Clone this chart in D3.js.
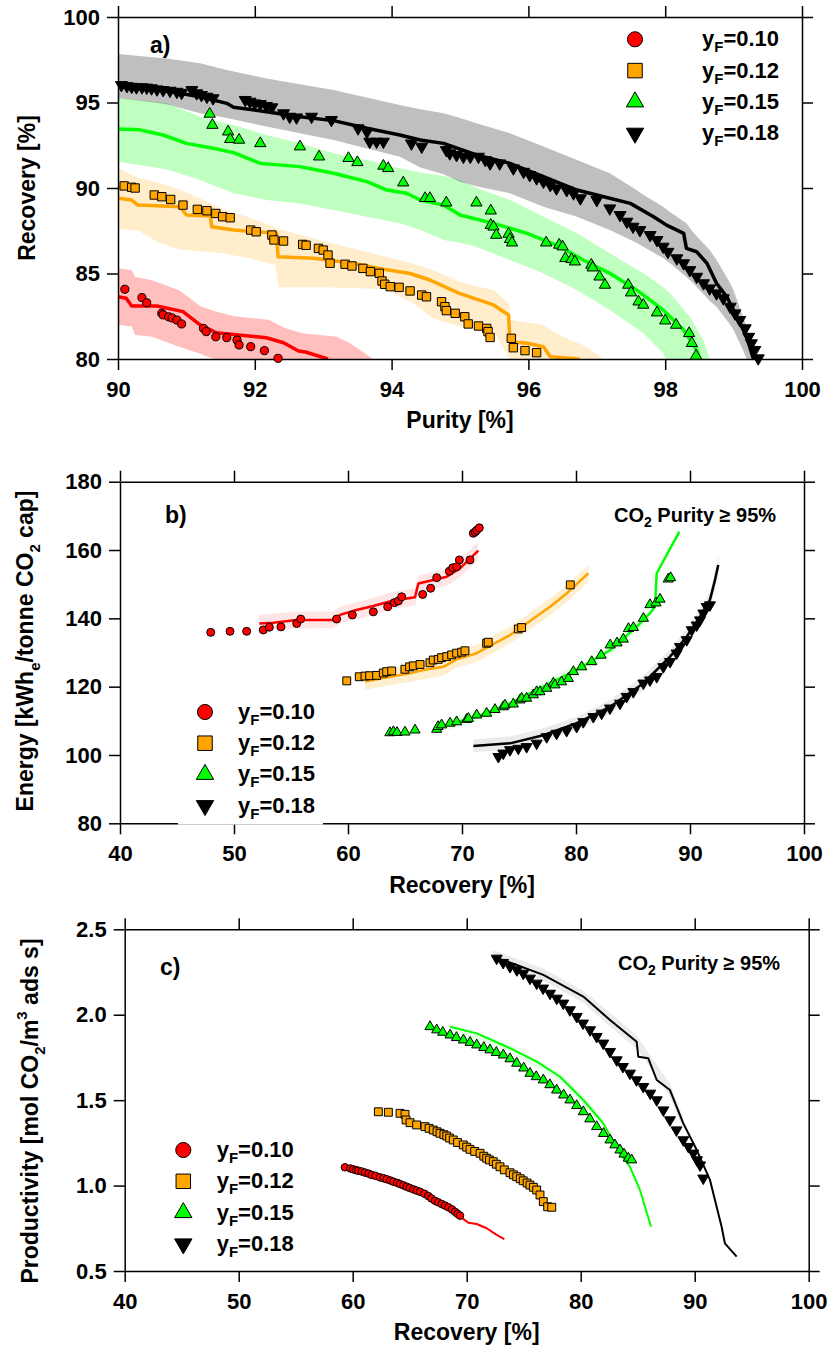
<!DOCTYPE html>
<html>
<head>
<meta charset="utf-8">
<script src="https://cdn.jsdelivr.net/npm/d3@7"></script>
<style>
body { margin: 0; background: #fff; }
svg text { font-family: "Liberation Sans", Arial, sans-serif; font-weight: bold; fill: #000; }
</style>
</head>
<body>
<div id="chart-area"></div>
<script>
// ---------- data: panel a) recovery vs purity ----------
var feedLabels = ["0.10", "0.12", "0.15", "0.18"];

var aPts10 = [[90.10,84.08],[90.35,83.59],[90.42,83.29],[90.64,82.67],[90.66,82.58],[90.74,82.47],[90.79,82.40],[90.86,82.28],[90.93,82.05],[91.25,81.79],[91.29,81.60],[91.43,81.30],[91.59,81.25],[91.74,81.11],[91.77,80.82],[91.94,80.72],[92.14,80.49],[92.34,80.04]];
var aLine10 = [[90.0,83.64],[90.12,83.55],[90.2,83.1],[90.57,83.1],[90.95,82.77],[91.2,82.0],[91.44,81.53],[91.69,81.43],[92.17,81.24],[92.42,80.95],[92.64,80.47],[92.74,80.41],[93.07,80.0]];
var aBand10 = [[90.0,82.0,85.3],[90.2,81.9,85.2],[90.25,81.4,84.8],[90.5,81.3,84.6],[90.9,80.7,84.0],[91.2,80.3,83.1],[91.4,80.0,82.8],[91.7,79.6,82.5],[92.2,79.0,82.3],[92.45,79,81.8],[92.7,79,81.5],[93.2,79,81.3],[93.4,79,80.9],[93.73,79,80.0]];

var aPts12 = [[90.09,90.12],[90.20,90.04],[90.25,90.00],[90.53,89.59],[90.64,89.49],[90.77,89.33],[90.95,89.00],[91.16,88.75],[91.30,88.67],[91.43,88.51],[91.53,88.32],[91.64,88.26],[91.94,87.54],[92.02,87.44],[92.25,87.25],[92.28,86.96],[92.42,86.90],[92.70,86.70],[92.75,86.65],[92.93,86.47],[93.00,86.37],[93.07,86.08],[93.10,85.60],[93.32,85.54],[93.42,85.44],[93.58,85.30],[93.69,85.11],[93.82,85.01],[93.86,84.56],[93.90,84.37],[93.98,84.23],[94.11,84.19],[94.27,83.98],[94.44,83.74],[94.51,83.64],[94.73,83.35],[94.78,83.06],[94.80,82.83],[94.93,82.67],[95.07,82.47],[95.12,82.05],[95.27,81.93],[95.39,81.79],[95.41,81.60],[95.44,81.26],[95.75,81.21],[95.78,80.66],[95.95,80.49],[96.12,80.37]];
var aLine12 = [[90.0,89.4],[90.2,89.3],[90.29,89.0],[90.91,88.9],[91.0,88.42],[91.35,88.36],[91.37,87.73],[91.69,87.54],[92.32,87.35],[92.34,85.98],[92.86,85.89],[93.44,85.60],[93.88,85.25],[94.27,85.0],[94.56,84.62],[94.99,83.84],[95.49,83.16],[95.71,82.57],[95.73,81.01],[95.98,80.92],[96.22,80.72],[96.32,80.13],[96.75,80.0]];
var aBand12 = [[90.0,87.6,91.15],[90.3,87.5,90.6],[90.6,86.8,90.3],[90.9,86.4,89.9],[91.2,86.3,89.4],[91.5,86.2,88.8],[91.9,85.9,88.3],[92.3,85.5,87.7],[92.35,84.2,87.6],[93.0,84.2,86.9],[93.9,84.1,86.0],[94.3,83.3,85.6],[94.6,82.4,85.2],[95.0,81.9,84.5],[95.5,81.6,84.0],[95.72,80.0,83.2],[95.73,79,82.3],[96.2,79,82.0],[96.5,79,81.3],[96.8,79,80.8],[97.1,79,80.0]];

var aPts15 = [[91.34,94.33],[91.38,93.68],[91.61,93.29],[91.64,92.85],[91.77,92.81],[92.08,92.61],[92.66,92.42],[92.94,91.83],[93.37,91.74],[93.50,91.50],[93.88,91.29],[93.95,91.15],[94.17,90.31],[94.49,89.40],[94.56,89.40],[94.80,89.14],[95.24,89.14],[95.45,88.67],[95.45,87.83],[95.49,87.73],[95.53,87.25],[95.71,87.31],[95.73,87.00],[95.76,86.80],[96.26,86.80],[96.45,86.67],[96.50,86.57],[96.54,85.89],[96.63,85.83],[96.68,85.69],[96.92,85.50],[96.94,85.34],[97.04,84.81],[97.12,84.33],[97.46,84.33],[97.50,83.88],[97.61,83.35],[97.68,83.16],[97.88,82.71],[98.00,82.24],[98.16,81.99],[98.35,81.50],[98.39,80.92],[98.45,80.18]];
var aLine15 = [[90.0,93.45],[90.32,93.4],[90.66,93.1],[91.0,92.61],[91.39,92.32],[91.69,92.07],[92.08,91.44],[92.66,91.25],[93.15,90.86],[93.64,90.37],[93.93,89.88],[94.22,89.69],[94.42,89.30],[94.76,89.0],[95.0,88.42],[95.49,87.93],[95.98,87.35],[96.46,86.57],[96.80,85.79],[97.19,85.01],[97.58,84.04],[97.97,82.87],[98.27,81.70],[98.46,80.53],[98.51,80.0]];
var aBand15 = [[90.0,91.54,95.27],[90.71,91.1,94.95],[91.2,90.47,94.17],[91.69,89.69,93.68],[92.17,89.30,93.10],[92.66,89.1,92.61],[93.15,88.71,92.03],[93.64,88.32,91.64],[94.12,87.94,91.15],[94.42,87.54,90.9],[94.76,86.96,90.7],[95.0,86.8,90.47],[95.24,86.57,90.0],[95.73,85.79,89.30],[96.22,85.0,88.32],[96.71,84.04,87.35],[97.19,82.87,86.18],[97.68,81.50,85.01],[97.97,80.33,84.2],[98.07,79.5,83.84],[98.36,79,82.47],[98.56,79,81.11],[98.65,79,80.0]];

var aPts18 = [[90.05,96.02],[90.13,95.96],[90.20,95.92],[90.27,95.89],[90.35,95.89],[90.42,95.87],[90.49,95.83],[90.57,95.77],[90.66,95.73],[90.76,95.69],[90.86,95.63],[90.93,95.57],[91.08,95.73],[91.15,95.54],[91.22,95.44],[91.30,95.34],[91.39,95.25],[91.86,95.15],[91.93,95.05],[92.00,94.95],[92.08,94.91],[92.17,94.80],[92.25,94.72],[92.42,94.37],[92.51,94.17],[92.61,94.13],[92.83,94.17],[93.12,93.98],[93.51,93.49],[93.64,93.29],[93.68,92.71],[93.78,92.71],[93.88,92.71],[94.29,92.61],[94.44,92.42],[94.80,92.22],[94.85,92.03],[94.95,91.93],[95.05,91.83],[95.15,91.83],[95.27,91.83],[95.37,91.64],[95.44,91.44],[95.58,91.44],[95.78,91.15],[95.93,90.95],[96.02,90.76],[96.12,90.57],[96.22,90.37],[96.32,90.18],[96.41,89.98],[96.56,89.88],[96.66,89.69],[96.76,89.40],[97.00,89.30],[97.19,88.81],[97.34,88.42],[97.44,88.03],[97.53,87.74],[97.63,87.54],[97.78,87.25],[97.88,86.96],[97.97,86.57],[98.04,86.27],[98.17,85.89],[98.27,85.60],[98.36,85.20],[98.46,84.81],[98.56,84.43],[98.65,84.13],[98.75,83.84],[98.85,83.55],[98.95,83.06],[99.02,82.67],[99.09,82.28],[99.17,81.80],[99.22,81.30],[99.26,80.92],[99.31,80.53],[99.36,80.04]];
var aLine18 = [[90.0,95.96],[90.47,95.83],[91.2,95.34],[91.59,94.95],[91.69,94.72],[92.17,94.46],[92.66,94.17],[93.15,93.94],[93.64,93.49],[94.12,93.10],[94.42,92.81],[94.76,92.61],[95.24,91.93],[95.73,91.44],[96.22,90.66],[96.71,89.88],[97.10,89.49],[97.49,89.10],[97.83,88.32],[98.02,87.83],[98.27,87.35],[98.31,86.47],[98.46,86.27],[98.61,85.60],[98.75,84.43],[98.90,83.64],[99.05,82.47],[99.19,81.30],[99.29,80.0]];
var aBand18 = [[90.0,95.27,97.84],[90.71,94.9,97.58],[91.2,94.37,97.3],[91.59,94.1,96.9],[92.17,93.59,96.41],[93.15,92.81,95.73],[94.12,91.83,94.85],[94.42,91.2,94.6],[94.76,90.8,94.37],[95.0,90.37,94.1],[95.24,90.1,93.78],[95.73,89.69,93.20],[96.22,88.91,92.42],[96.71,88.32,91.64],[97.19,87.54,90.86],[97.58,86.8,89.88],[97.68,86.57,89.6],[97.97,85.9,88.91],[98.07,85.60,88.6],[98.31,84.8,87.94],[98.41,84.43,87.4],[98.65,83.4,86.37],[98.75,83.06,85.8],[98.95,82.0,84.43],[99.0,81.70,84.0],[99.14,80.5,82.47],[99.19,80.0,81.9],[99.29,79,80.0]];

// ---------- data: panel b) energy vs recovery ----------
var bPts10 = [[47.96,135.9],[49.65,136.2],[51.11,136.2],[52.57,136.6],[53.10,137.4],[54.12,137.5],[55.50,138.5],[55.85,139.8],[59.0,139.8],[60.38,141.0],[62.22,141.9],[63.48,143.4],[64.07,144.6],[64.42,145.1],[64.71,146.3],[66.55,147.0],[67.25,148.8],[67.78,151.9],[68.89,153.8],[69.18,154.8],[69.53,155.1],[69.77,157.1],[70.70,157.1],[70.99,164.9],[71.15,165.3],[71.29,165.8],[71.52,166.5]];
var bLine10 = [[52.22,138.5],[53.45,138.7],[55.50,139.5],[58.71,139.5],[59.30,141.0],[60.47,142.2],[62.22,143.6],[63.98,145.2],[65.88,146.2],[66.17,150.2],[67.48,151.2],[68.66,152.2],[69.82,154.6],[71.43,159.8]];
var bBand10 = [[52.2,136.2,141.0],[55.5,137.0,142.0],[58.7,137.2,142.0],[59.3,138.5,143.5],[62.2,141.0,146.0],[64.0,142.8,147.8],[65.9,143.8,148.8],[66.2,147.6,152.6],[68.7,149.6,154.6],[69.8,152.0,157.0],[71.4,157.0,162.5]];

var bPts12 = [[59.89,121.7],[60.99,122.9],[61.49,123.1],[61.9,123.2],[62.51,123.3],[63.1,124.0],[63.39,124.4],[63.83,124.6],[64.99,125.1],[65.4,125.8],[65.73,126.1],[66.32,126.5],[67.19,127.0],[67.48,127.8],[67.92,128.0],[68.21,128.5],[68.66,128.8],[69.09,129.3],[69.53,129.8],[69.97,130.1],[70.26,130.5],[72.16,132.7],[72.3,133.0],[74.94,136.9],[75.23,137.3],[79.5,149.8]];
var bLine12 = [[61.49,121.5],[63.68,122.9],[65.44,123.9],[66.61,124.9],[68.36,125.8],[69.53,128.0],[71.29,129.8],[74.21,135.1],[75.67,138.5],[77.72,143.4],[79.18,147.3],[81.08,153.2]];
var bBand12 = [[61.5,119.0,124.0],[63.7,120.4,125.4],[65.4,121.4,126.4],[68.4,123.3,128.3],[69.5,125.5,130.5],[71.3,127.3,132.3],[74.2,132.6,137.6],[75.7,136.0,141.0],[77.7,140.9,145.9],[79.2,144.8,149.8],[81.1,150.7,155.7]];

var bPts15 = [[63.68,106.5],[63.98,106.8],[64.3,106.6],[65.0,106.7],[65.88,107.3],[67.78,107.5],[67.9,108.3],[68.21,108.8],[68.95,109.3],[69.53,109.7],[70.41,110.4],[70.56,110.7],[71.29,111.7],[72.16,112.2],[72.89,113.3],[73.62,114.1],[73.77,114.6],[74.50,114.9],[75.09,116.1],[75.23,116.6],[75.67,116.6],[76.26,117.6],[76.55,118.5],[76.84,118.5],[77.43,119.5],[78.01,121.0],[78.16,120.5],[78.74,121.4],[79.33,122.4],[79.77,124.4],[80.5,125.8],[81.38,127.3],[82.2,129.2],[83.0,132.2],[83.6,132.8],[84.15,133.9],[84.6,137.0],[85.03,137.3],[85.91,140.0],[86.49,144.0],[87.02,144.5],[87.37,145.6],[88.09,151.5],[88.30,151.9]];
var bLine15 = [[68.07,108.3],[71.29,111.2],[74.21,115.1],[77.13,120.0],[80.06,124.9],[83.0,130.7],[85.32,137.5],[86.49,141.5],[86.93,143.4],[87.08,153.2],[88.83,163.9],[89.06,165.4]];
var bBand15 = [[68.0,106.5,110.0],[71.3,109.5,113.0],[74.2,113.3,116.8],[77.1,118.2,121.8],[80.1,123.0,126.8],[83.0,128.8,132.6],[85.3,135.6,139.4],[86.5,139.6,143.4]];

var bPts18 = [[73.19,99.5],[73.62,100.5],[74.21,101.5],[74.94,101.9],[75.67,102.4],[76.55,103.4],[77.43,105.3],[78.3,106.3],[79.18,107.1],[80.06,108.3],[80.64,109.7],[81.52,111.2],[82.25,112.2],[82.98,113.7],[83.86,115.1],[84.44,117.1],[85.03,118.5],[85.91,121.0],[86.49,121.9],[87.08,122.9],[87.66,125.8],[88.25,127.3],[88.83,129.8],[89.12,131.7],[89.71,133.7],[90.15,136.6],[90.59,138.0],[90.88,139.5],[91.17,141.5],[91.46,143.4],[91.75,143.9]];
var bLine18 = [[71.0,102.6],[74.21,103.4],[77.13,105.8],[80.06,109.3],[83.0,114.1],[85.91,121.0],[88.25,128.8],[89.71,134.6],[90.88,140.5],[91.75,145.4],[92.19,151.2],[92.48,155.6]];
var bBand18 = [[71.0,100.8,104.6],[74.2,101.6,105.4],[77.1,103.8,107.8],[80.1,107.3,111.3],[83.0,112.0,116.2],[85.9,118.8,123.2],[88.3,126.5,131.0],[89.7,132.3,137.0],[90.9,138.0,143.0],[91.8,143.0,148.0],[92.5,153.0,158.5]];

// ---------- data: panel c) productivity vs recovery ----------
var cPts10 = [[59.32,1.107],[59.8,1.100],[60.05,1.095],[60.3,1.090],[60.49,1.087],[60.8,1.082],[61.08,1.076],[61.4,1.070],[61.67,1.062],[62.0,1.057],[62.39,1.048],[62.7,1.043],[62.98,1.037],[63.3,1.030],[63.56,1.023],[63.9,1.016],[64.15,1.009],[64.45,1.001],[64.74,0.993],[65.0,0.986],[65.32,0.978],[65.6,0.971],[65.90,0.964],[66.3,0.952],[66.63,0.939],[66.9,0.925],[67.22,0.911],[67.5,0.902],[67.81,0.892],[68.1,0.883],[68.39,0.873],[68.7,0.861],[68.97,0.847],[69.2,0.835],[69.41,0.824]];
var cLine10 = [[59.5,1.10],[62.0,1.056],[64.0,1.012],[66.0,0.962],[68.0,0.885],[69.41,0.818],[70.14,0.783],[70.88,0.775],[71.75,0.750],[72.63,0.711],[73.30,0.687]];

var cPts12 = [[62.25,1.432],[63.13,1.429],[64.15,1.423],[64.59,1.417],[64.68,1.384],[65.03,1.368],[65.61,1.355],[66.34,1.345],[66.7,1.335],[67.07,1.325],[67.4,1.315],[67.66,1.306],[68.0,1.298],[68.25,1.290],[68.5,1.278],[68.82,1.267],[69.2,1.252],[69.70,1.238],[70.0,1.225],[70.29,1.212],[70.7,1.200],[71.17,1.189],[71.5,1.172],[71.75,1.160],[72.0,1.150],[72.33,1.140],[72.6,1.125],[72.92,1.110],[73.3,1.092],[73.80,1.075],[74.1,1.063],[74.39,1.052],[74.7,1.040],[74.96,1.028],[75.3,1.015],[75.55,1.003],[75.85,0.990],[76.14,0.974],[76.43,0.945],[76.72,0.906],[77.10,0.876],[77.46,0.873]];

var cPts15 = [[66.78,1.930],[67.37,1.911],[67.9,1.897],[68.54,1.881],[69.1,1.866],[69.71,1.852],[70.3,1.838],[70.88,1.823],[71.5,1.808],[72.04,1.794],[72.6,1.779],[73.21,1.764],[73.8,1.742],[74.39,1.716],[75.0,1.688],[75.55,1.657],[76.1,1.637],[76.72,1.618],[77.3,1.590],[77.89,1.559],[78.5,1.530],[79.06,1.501],[79.65,1.468],[80.23,1.432],[80.8,1.390],[81.40,1.345],[82.0,1.305],[82.57,1.267],[83.0,1.238],[83.45,1.208],[83.8,1.184],[84.18,1.160],[84.47,1.150]];
var cLine15 = [[68.54,1.930],[70.88,1.891],[73.80,1.804],[76.14,1.725],[78.19,1.637],[80.23,1.501],[81.98,1.364],[83.45,1.189],[84.32,1.110],[85.20,0.974],[86.17,0.759]];
var cBand15 = [[68.5,1.91,1.95],[73.8,1.78,1.83],[78.2,1.61,1.66],[80.2,1.47,1.53],[82.0,1.34,1.39]];

var cPts18 = [[72.63,2.330],[73.2,2.305],[73.80,2.281],[74.4,2.262],[74.96,2.242],[75.55,2.213],[76.14,2.184],[76.7,2.155],[77.31,2.125],[77.9,2.096],[78.47,2.067],[79.05,2.028],[79.65,1.989],[80.2,1.950],[80.82,1.911],[81.4,1.872],[81.98,1.833],[82.57,1.784],[83.16,1.735],[83.7,1.696],[84.32,1.657],[84.9,1.618],[85.49,1.579],[86.1,1.540],[86.67,1.501],[87.25,1.442],[87.83,1.384],[88.4,1.325],[89.0,1.267],[89.45,1.228],[89.88,1.189],[90.2,1.150],[90.47,1.120],[90.75,1.043]];
var cLine18 = [[72.33,2.340],[74.39,2.291],[76.72,2.233],[80.23,2.106],[82.57,1.969],[84.91,1.842],[85.05,1.754],[85.93,1.745],[86.67,1.618],[87.83,1.559],[89.0,1.364],[90.18,1.208],[91.34,1.033],[92.36,0.759],[92.65,0.662],[93.68,0.584]];
var cBand18 = [[72.3,2.31,2.38],[76.7,2.20,2.27],[80.2,2.07,2.14],[82.6,1.93,2.01],[84.9,1.80,1.88],[85.9,1.71,1.78],[87.8,1.52,1.60],[89.0,1.33,1.40]];

// ticks
var aXTicks = [90, 92, 94, 96, 98, 100];
var aYTicks = [80, 85, 90, 95, 100];
var bXTicks = [40, 50, 60, 70, 80, 90, 100];
var bYTicks = [80, 100, 120, 140, 160, 180];
var cXTicks = [40, 50, 60, 70, 80, 90, 100];
var cYTicks = [0.5, 1.0, 1.5, 2.0, 2.5];

// ---------- styling ----------
var colors = ["#ff0000", "#ffa500", "#00ff00", "#000000"];
var shapes = ["circle", "square", "triangle", "down"];

var svg = d3.select("#chart-area")
    .append("svg")
        .attr("width", 829)
        .attr("height", 1347);

function symbolPath(shape, size) {
    var type = shape == "circle" ? d3.symbolCircle : (shape == "square" ? d3.symbolSquare : d3.symbolTriangle);
    return d3.symbol().type(type).size(size)();
}

function drawPanel(p) {
    var x = d3.scaleLinear().domain(p.xDomain).range([p.left, p.right]);
    var y = d3.scaleLinear().domain(p.yDomain).range([p.bottom, p.top]);

    svg.append("clipPath").attr("id", "clip-" + p.name)
        .append("rect")
            .attr("x", p.left).attr("y", p.top)
            .attr("width", p.right - p.left).attr("height", p.bottom - p.top);

    var plot = svg.append("g").attr("clip-path", "url(#clip-" + p.name + ")");

    var area = d3.area()
        .x(function(d){ return x(d[0]); })
        .y0(function(d){ return y(d[1]); })
        .y1(function(d){ return y(d[2]); });
    var line = d3.line()
        .x(function(d){ return x(d[0]); })
        .y(function(d){ return y(d[1]); });

    // bands
    p.series.forEach(function(s, i) {
        if (!s.band) return;
        plot.append("path")
            .datum(s.band)
            .attr("d", area)
            .attr("fill", colors[i])
            .attr("fill-opacity", p.bandOpacity[i]);
    });

    // model lines
    p.series.forEach(function(s, i) {
        if (!s.line) return;
        plot.append("path")
            .datum(s.line)
            .attr("d", line)
            .attr("fill", "none")
            .attr("stroke", colors[i])
            .attr("stroke-width", p.lineWidth)
            .attr("stroke-linejoin", "round");
    });

    // axes
    var axes = [
        { gen: d3.axisBottom(x).tickValues(p.xTicks).tickFormat(p.xFmt).tickPadding(11), tr: "translate(0," + p.bottom + ")" },
        { gen: d3.axisTop(x).tickValues(p.xTicks).tickFormat(""), tr: "translate(0," + p.top + ")" },
        { gen: d3.axisLeft(y).tickValues(p.yTicks).tickFormat(p.yFmt).tickPadding(7), tr: "translate(" + p.left + ",0)" },
        { gen: d3.axisRight(y).tickValues(p.yTicks).tickFormat(""), tr: "translate(" + p.right + ",0)" }
    ];
    axes.forEach(function(a) {
        var ag = svg.append("g")
            .attr("transform", a.tr)
            .call(a.gen.tickSize(11).tickSizeOuter(0));
        ag.attr("font-family", null).attr("font-size", 22);
        ag.selectAll(".domain, .tick line")
            .attr("stroke", "#000")
            .attr("stroke-width", 1.5);
        ag.selectAll("text").attr("fill", "#000");
    });

    // white legend box (hides a bit of the axis in panel b)
    if (p.legendBox) {
        svg.append("rect")
            .attr("x", p.legendBox[0]).attr("y", p.legendBox[1])
            .attr("width", p.legendBox[2]).attr("height", p.legendBox[3])
            .attr("fill", "#fff");
    }

    // data markers
    p.series.forEach(function(s, i) {
        if (!s.pts) return;
        svg.append("g").selectAll("path")
            .data(s.pts)
            .enter()
            .append("path")
                .attr("d", symbolPath(shapes[i], p.markerSize[i]))
                .attr("transform", function(d){
                    return "translate(" + x(d[0]) + "," + y(d[1]) + ")" + (shapes[i] == "down" ? " rotate(180)" : "");
                })
                .attr("fill", colors[i])
                .attr("stroke", "#000")
                .attr("stroke-width", 1);
    });

    // legend
    feedLabels.forEach(function(lab, i) {
        var ly = p.legend.y + i * p.legend.step;
        svg.append("path")
            .attr("d", symbolPath(shapes[i], p.legend.size[i]))
            .attr("transform", "translate(" + p.legend.x + "," + ly + ")" + (shapes[i] == "down" ? " rotate(180)" : ""))
            .attr("fill", colors[i])
            .attr("stroke", "#000")
            .attr("stroke-width", 1);
        var t = svg.append("text")
            .attr("x", p.legend.x + p.legend.dx)
            .attr("y", ly + 7)
            .attr("font-size", 22);
        t.append("tspan").text("y");
        t.append("tspan").attr("font-size", 15).attr("dy", 6).text("F");
        t.append("tspan").attr("dy", -6).text("=" + lab);
    });

    // panel letter
    svg.append("text")
        .attr("x", p.letter[0]).attr("y", p.letter[1])
        .attr("font-size", 23)
        .text(p.name + ")");

    // purity note
    if (p.note) {
        var n = svg.append("text")
            .attr("x", p.note[0]).attr("y", p.note[1])
            .attr("font-size", 20);
        n.append("tspan").text("CO");
        n.append("tspan").attr("font-size", 14).attr("dy", 5).text("2");
        n.append("tspan").attr("dy", -5).text(" Purity \u2265 95%");
    }

    // x title
    svg.append("text")
        .attr("x", (p.left + p.right) / 2)
        .attr("y", p.xTitleY)
        .attr("text-anchor", "middle")
        .attr("font-size", 23)
        .text(p.xTitle);

    // y title
    var yt = svg.append("text")
        .attr("transform", "translate(" + p.yTitle.x + "," + p.yTitle.y + ") rotate(-90)")
        .attr("text-anchor", "middle")
        .attr("font-size", 23);
    p.yTitle.parts.forEach(function(part) {
        var ts = yt.append("tspan").text(part[0]);
        if (part[1] == "sub") ts.attr("font-size", 15).attr("dy", 7);
        if (part[1] == "sup") ts.attr("font-size", 15).attr("dy", -11);
        if (part[1] == "back") ts.attr("dy", -7);
        if (part[1] == "down") ts.attr("dy", 11);
    });
}

drawPanel({
    name: "a",
    left: 118, right: 802, top: 17, bottom: 359,
    xDomain: [90, 100], yDomain: [80, 100],
    xTicks: aXTicks, yTicks: aYTicks,
    xFmt: d3.format("d"), yFmt: d3.format("d"),
    series: [
        { pts: aPts10, line: aLine10, band: aBand10 },
        { pts: aPts12, line: aLine12, band: aBand12 },
        { pts: aPts15, line: aLine15, band: aBand15 },
        { pts: aPts18, line: aLine18, band: aBand18 }
    ],
    bandOpacity: [0.25, 0.2, 0.25, 0.25],
    lineWidth: 3.5,
    markerSize: [52, 70, 55, 62],
    legend: { x: 635, y: 39.3, step: 31.3, dx: 67, size: [180, 210, 130, 130] },
    letter: [150, 53],
    xTitle: "Purity [%]", xTitleY: 428,
    yTitle: { x: 35, y: 188, parts: [["Recovery [%]"]] }
});

drawPanel({
    name: "b",
    left: 120, right: 804, top: 481.7, bottom: 823.3,
    xDomain: [40, 100], yDomain: [80, 180],
    xTicks: bXTicks, yTicks: bYTicks,
    xFmt: d3.format("d"), yFmt: d3.format("d"),
    series: [
        { pts: bPts10, line: bLine10, band: bBand10 },
        { pts: bPts12, line: bLine12, band: bBand12 },
        { pts: bPts15, line: bLine15, band: bBand15 },
        { pts: bPts18, line: bLine18, band: bBand18 }
    ],
    bandOpacity: [0.1, 0.18, 0.08, 0.08],
    lineWidth: 2.5,
    markerSize: [50, 62, 45, 52],
    legendBox: [178, 690, 145, 134.6],
    legend: { x: 205, y: 712, step: 31.2, dx: 33, size: [180, 210, 130, 130] },
    letter: [165, 523],
    note: [614, 522],
    xTitle: "Recovery [%]", xTitleY: 893,
    yTitle: { x: 33, y: 651, parts: [["Energy [kWh"], ["e", "sub"], ["/tonne CO", "back"], ["2", "sub"], [" cap]", "back"]] }
});

drawPanel({
    name: "c",
    left: 124.7, right: 808.7, top: 929.3, bottom: 1271,
    xDomain: [40, 100], yDomain: [0.5, 2.5],
    xTicks: cXTicks, yTicks: cYTicks,
    xFmt: d3.format("d"), yFmt: d3.format(".1f"),
    series: [
        { pts: cPts10, line: cLine10 },
        { pts: cPts12 },
        { pts: cPts15, line: cLine15, band: cBand15 },
        { pts: cPts18, line: cLine18, band: cBand18 }
    ],
    bandOpacity: [0, 0, 0.1, 0.08],
    lineWidth: 2,
    markerSize: [45, 62, 45, 52],
    legend: { x: 183.3, y: 1150, step: 31.3, dx: 33.4, size: [180, 210, 130, 130] },
    letter: [160, 975],
    note: [618, 970],
    xTitle: "Recovery [%]", xTitleY: 1340,
    yTitle: { x: 38, y: 1111, parts: [["Productivity [mol CO"], ["2", "sub"], ["/m", "back"], ["3", "sup"], [" ads s]", "down"]] }
});
</script>
</body>
</html>
